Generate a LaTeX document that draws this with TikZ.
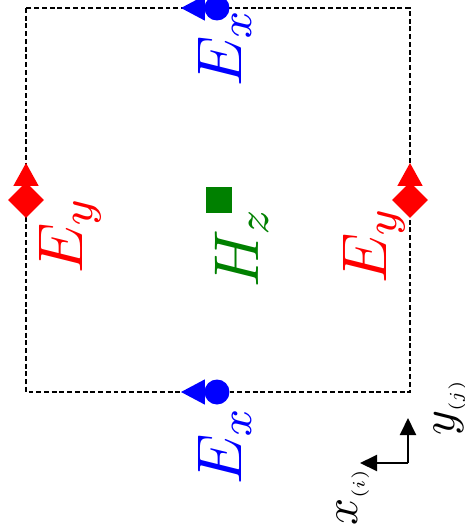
\RequirePackage{fix-cm}
\documentclass[tikz,border=0pt]{standalone}
\usetikzlibrary{positioning,arrows.meta,shapes.geometric}
\definecolor{hzgreen}{HTML}{008000}

\begin{document}
\begin{tikzpicture}[x=0.02cm,y=-0.02cm,
  cellbox/.style={draw,line width=1pt,dash pattern=on 2.8pt off 1.6pt},
  exmark/.style={circle,fill=blue,inner sep=0pt,minimum size=0.5cm},
  eymark/.style={diamond,fill=red,inner sep=0pt,minimum size=0.72cm},
  hzmark/.style={rectangle,fill=hzgreen,inner sep=0pt,minimum size=0.52cm},
  exarr/.style={blue,line width=1pt,-{Triangle[length=0.48cm,width=0.5cm]}},
  eyarr/.style={red,line width=1pt,-{Triangle[length=0.46cm,width=0.5cm]}},
  lab/.style={inner sep=0pt,transform shape,rotate=90,scale=3.6},
  axlab/.style={inner sep=0pt,transform shape,rotate=90,scale=2.7},
  axarr/.style={line width=1.1pt,-{Triangle[length=0.34cm,width=0.32cm]}}]
\useasboundingbox (0,0) rectangle (464,531);
% Yee cell outline
\draw[cellbox] (26,8) rectangle (410,392);
% field components
\node[exmark] (exT) at (217,8) {};
\node[exmark] (exB) at (217,392) {};
\node[eymark] (eyL) at (26,200) {};
\node[eymark] (eyR) at (410,200) {};
\node[hzmark] (hz) at (219,200) {};
\coordinate (exTtip) at (181,8);
\coordinate (exBtip) at (181,392);
\coordinate (eyLtip) at (26,163);
\coordinate (eyRtip) at (410,163);
\draw[exarr] (exT.center) -- (exTtip);
\draw[exarr] (exB.center) -- (exBtip);
\draw[eyarr] (eyL.center) -- (eyLtip);
\draw[eyarr] (eyR.center) -- (eyRtip);
\node[lab,blue] (exTlab) at (225,47) {$E_x$};
\node[lab,blue] (exBlab) at (225,445) {$E_x$};
\node[lab,red] (eyLlab) at (70,235) {$E_y$};
\node[lab,red] (eyRlab) at (374,245) {$E_y$};
\node[lab,hzgreen] (hzlab) at (242,247) {$H_z$};
% index axes
\coordinate (orig) at (408,463);
\coordinate (xend) at (360,463);
\coordinate (yend) at (408,418);
\draw[axarr] (orig) -- (xend);
\draw[axarr] (orig) -- (yend);
\node[axlab] (xlab) at (353,497) {$x_{\mbox{\fontsize{3.7}{4}\selectfont$(i)$}}$};
\node[axlab] (ylab) at (450,407) {$y_{\mbox{\fontsize{3.7}{4}\selectfont$(j)$}}$};
\end{tikzpicture}
\end{document}
